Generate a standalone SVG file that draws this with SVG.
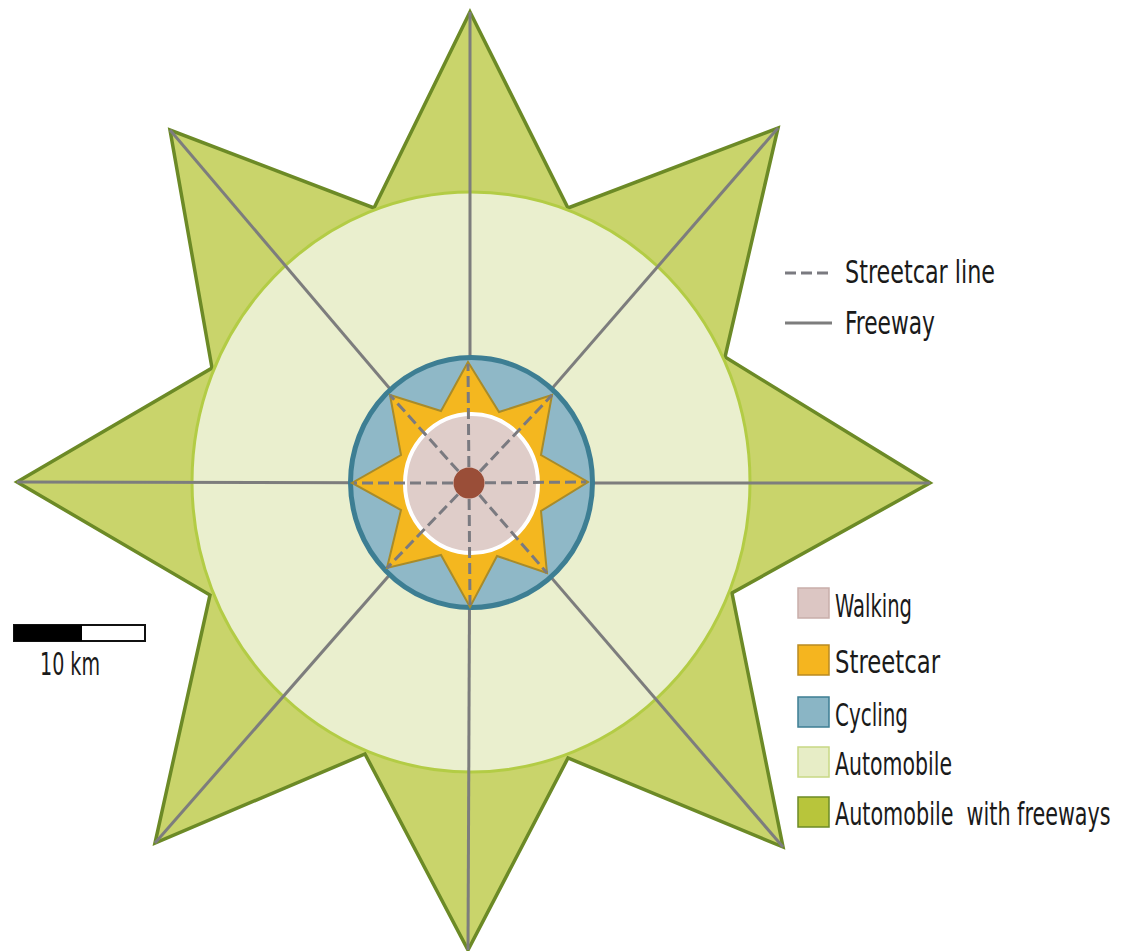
<svg xmlns="http://www.w3.org/2000/svg" width="1130" height="951" viewBox="0 0 1130 951">
<style>
.lbl{font-family:"Liberation Sans Narrow","DejaVu Sans Condensed","Liberation Sans",sans-serif;font-size:32px;fill:#1a1a1a;}
.fwy{stroke:#7d7d7d;stroke-width:3;fill:none;}
.sc{stroke:#7a7a80;stroke-width:3;fill:none;stroke-dasharray:11 5;}
</style>
<rect width="1130" height="951" fill="#ffffff"/>
<g id="freeway-zone">
<polygon points="470,12 568,208 778,128 725,357 930,483 732,593 783,847 568,758 468,950 365,754 155,843 210,595 17,482 212,368 170,130 374,208" fill="#c9d46b" stroke="#6c8a26" stroke-width="3.5" stroke-linejoin="miter"/>
</g>
<g id="automobile-zone">
<ellipse cx="471" cy="482" rx="279" ry="290" fill="#eaefce" stroke="#b3cc45" stroke-width="3"/>
</g>
<g id="connectors">
<g id="freeways">
<line class="fwy" x1="470" y1="483" x2="470" y2="12"/>
<line class="fwy" x1="470" y1="483" x2="778" y2="128"/>
<line class="fwy" x1="470" y1="483" x2="930" y2="483"/>
<line class="fwy" x1="470" y1="483" x2="783" y2="847"/>
<line class="fwy" x1="470" y1="483" x2="468" y2="950"/>
<line class="fwy" x1="470" y1="483" x2="155" y2="843"/>
<line class="fwy" x1="470" y1="483" x2="17" y2="482"/>
<line class="fwy" x1="470" y1="483" x2="170" y2="130"/>
</g>
</g>
<g id="cycling-zone">
<ellipse cx="471.5" cy="482.5" rx="121" ry="125" fill="#8fb8c7" stroke="#3d7e93" stroke-width="5"/>
</g>
<g id="streetcar-zone">
<polygon points="468,362 499,412 552,395 541,455 588,482 541,511 547,573 497,556 470,607 441,555 387,568 401,510 352,483 401,455 390,395 441,411" fill="#f4b71f" stroke="#a88b2a" stroke-width="2"/>
</g>
<g id="walking-zone">
<ellipse cx="471.5" cy="483.5" rx="66.5" ry="69.5" fill="#dfcdc9" stroke="#ffffff" stroke-width="4"/>
</g>
<g id="streetcar-lines">
<line class="sc" x1="469" y1="483" x2="468" y2="364"/>
<line class="sc" x1="469" y1="483" x2="552" y2="395"/>
<line class="sc" x1="469" y1="483" x2="586" y2="482"/>
<line class="sc" x1="469" y1="483" x2="547" y2="573"/>
<line class="sc" x1="469" y1="483" x2="470" y2="605"/>
<line class="sc" x1="469" y1="483" x2="387" y2="568"/>
<line class="sc" x1="469" y1="483" x2="354" y2="483"/>
<line class="sc" x1="469" y1="483" x2="390" y2="395"/>
</g>
<g id="center">
<circle cx="469" cy="483" r="15.5" fill="#9a4e38"/>
</g>
<g id="legend-lines">
<line class="sc" x1="785" y1="273" x2="832" y2="273" stroke-dasharray="10 5"/>
<text class="lbl" x="845" y="283" textLength="150" lengthAdjust="spacingAndGlyphs">Streetcar line</text>
<line class="fwy" x1="785" y1="323" x2="832" y2="323"/>
<text class="lbl" x="845" y="334" textLength="90" lengthAdjust="spacingAndGlyphs">Freeway</text>
</g>
<g id="legend-zones">
<rect x="798" y="588" width="31" height="30" fill="#dcc6c3" stroke="#c9aeaa" stroke-width="1.5"/>
<text class="lbl" x="835" y="617" textLength="77" lengthAdjust="spacingAndGlyphs">Walking</text>
<rect x="798" y="645" width="31" height="30" fill="#f5b51f" stroke="#b98a22" stroke-width="1.5"/>
<text class="lbl" x="835" y="673" textLength="105" lengthAdjust="spacingAndGlyphs">Streetcar</text>
<rect x="798" y="697" width="31" height="30" fill="#8ab5c5" stroke="#3d7e93" stroke-width="1.5"/>
<text class="lbl" x="835" y="726" textLength="73" lengthAdjust="spacingAndGlyphs">Cycling</text>
<rect x="798" y="747" width="31" height="30" fill="#e7edc6" stroke="#c8d884" stroke-width="1.5"/>
<text class="lbl" x="835" y="775" textLength="117" lengthAdjust="spacingAndGlyphs">Automobile</text>
<rect x="798" y="797" width="31" height="30" fill="#b8c53b" stroke="#6c8a26" stroke-width="1.5"/>
<text class="lbl" transform="translate(835,825) scale(0.72,1)" x="0" y="0" xml:space="preserve">Automobile  with freeways</text>
</g>
<g id="scale-bar">
<rect x="14" y="625" width="131" height="16" fill="#ffffff" stroke="#111111" stroke-width="2"/>
<rect x="14" y="625" width="68" height="16" fill="#000000"/>
<text class="lbl" x="40" y="675" textLength="60" lengthAdjust="spacingAndGlyphs">10 km</text>
</g>
</svg>
